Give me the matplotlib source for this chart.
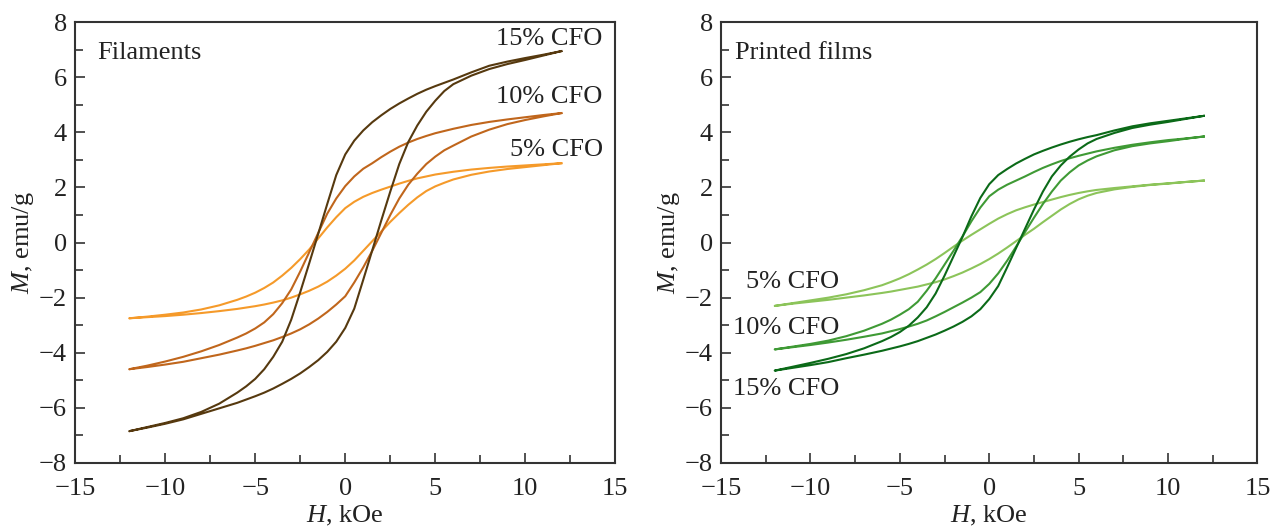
import matplotlib.pyplot as plt
from matplotlib.ticker import MultipleLocator

plt.rcParams['font.family'] = ['Liberation Serif', 'DejaVu Serif']
plt.rcParams['mathtext.fontset'] = 'custom'
plt.rcParams['mathtext.rm'] = 'Liberation Serif'
plt.rcParams['mathtext.it'] = 'Liberation Serif:italic'

# field (kOe) for the descending branch; the ascending branch runs the other way
h_down = [12, 11, 10, 9, 8, 7, 6, 5.5, 5, 4.5, 4, 3.5, 3, 2.5, 2, 1.5, 1, 0.5, 0,
          -0.5, -1, -1.5, -2, -2.5, -3, -3.5, -4, -4.5, -5, -5.5, -6, -7, -8, -9, -10, -11, -12]
h_up = [-h for h in h_down]

# Filaments, M (emu/g)
fil_15_down = [6.95, 6.82, 6.7, 6.57, 6.42, 6.18, 5.92, 5.8, 5.68, 5.55, 5.4, 5.23, 5.05, 4.85, 4.62, 4.37, 4.07, 3.7, 3.2,
               2.45, 1.4, 0.32, -0.75, -1.8, -2.8, -3.6, -4.15, -4.6, -4.95, -5.22, -5.45, -5.85, -6.15, -6.38, -6.55, -6.7, -6.85]
fil_15_up = [-6.85, -6.72, -6.58, -6.42, -6.22, -6.02, -5.82, -5.7, -5.58, -5.45, -5.3, -5.13, -4.95, -4.75, -4.52, -4.27, -3.97, -3.6, -3.1,
             -2.4, -1.35, -0.28, 0.8, 1.85, 2.85, 3.65, 4.25, 4.75, 5.15, 5.5, 5.75, 6.06, 6.3, 6.48, 6.63, 6.79, 6.95]
fil_10_down = [4.7, 4.63, 4.55, 4.47, 4.38, 4.27, 4.13, 4.05, 3.97, 3.87, 3.76, 3.63, 3.48, 3.3, 3.1, 2.88, 2.68, 2.4, 2.05,
               1.6, 1.05, 0.35, -0.35, -1.05, -1.7, -2.2, -2.6, -2.9, -3.12, -3.3, -3.45, -3.72, -3.95, -4.15, -4.32, -4.47, -4.6]
fil_10_up = [-4.6, -4.52, -4.43, -4.33, -4.2, -4.07, -3.92, -3.84, -3.75, -3.65, -3.55, -3.43, -3.3, -3.15, -2.97, -2.76, -2.52, -2.25, -1.95,
             -1.45, -0.9, -0.3, 0.35, 1.0, 1.6, 2.1, 2.5, 2.85, 3.12, 3.35, 3.52, 3.85, 4.1, 4.3, 4.45, 4.58, 4.7]
fil_5_down = [2.88, 2.84, 2.8, 2.76, 2.71, 2.65, 2.57, 2.52, 2.47, 2.4, 2.33, 2.24, 2.14, 2.03, 1.92, 1.8, 1.66, 1.48, 1.25,
              0.92, 0.55, 0.15, -0.25, -0.6, -0.92, -1.2, -1.45, -1.65, -1.82, -1.96, -2.08, -2.28, -2.43, -2.54, -2.62, -2.69, -2.75]
fil_5_up = [-2.75, -2.71, -2.67, -2.62, -2.56, -2.49, -2.41, -2.36, -2.31, -2.25, -2.18, -2.1, -2.0, -1.88, -1.75, -1.6, -1.42, -1.2, -0.95,
            -0.65, -0.3, 0.05, 0.4, 0.75, 1.07, 1.37, 1.64, 1.87, 2.04, 2.17, 2.29, 2.46, 2.58, 2.67, 2.74, 2.81, 2.88]

# Printed films
film_15_down = [4.6, 4.51, 4.42, 4.33, 4.22, 4.07, 3.9, 3.83, 3.75, 3.66, 3.56, 3.45, 3.33, 3.2, 3.04, 2.87, 2.67, 2.45, 2.12,
                1.62, 0.95, 0.2, -0.5, -1.2, -1.85, -2.35, -2.72, -3.02, -3.25, -3.43, -3.58, -3.84, -4.05, -4.22, -4.37, -4.51, -4.65]
film_15_up = [-4.65, -4.55, -4.45, -4.34, -4.2, -4.07, -3.93, -3.85, -3.77, -3.68, -3.58, -3.46, -3.34, -3.2, -3.05, -2.88, -2.68, -2.42, -2.05,
              -1.58, -0.9, -0.2, 0.5, 1.2, 1.85, 2.4, 2.8, 3.12, 3.38, 3.6, 3.76, 3.98, 4.16, 4.28, 4.38, 4.49, 4.6]
film_10_down = [3.85, 3.78, 3.72, 3.64, 3.55, 3.44, 3.31, 3.23, 3.15, 3.06, 2.96, 2.84, 2.71, 2.56, 2.4, 2.25, 2.1, 1.92, 1.68,
                1.27, 0.77, 0.22, -0.3, -0.8, -1.3, -1.75, -2.15, -2.42, -2.62, -2.8, -2.95, -3.2, -3.4, -3.56, -3.68, -3.78, -3.88]
film_10_up = [-3.88, -3.8, -3.72, -3.63, -3.53, -3.42, -3.3, -3.22, -3.14, -3.05, -2.95, -2.83, -2.68, -2.52, -2.35, -2.18, -2.0, -1.8, -1.5,
              -1.12, -0.66, -0.15, 0.38, 0.9, 1.4, 1.85, 2.25, 2.55, 2.8, 2.98, 3.13, 3.35, 3.5, 3.6, 3.68, 3.77, 3.85]
film_5_down = [2.25, 2.2, 2.15, 2.1, 2.04, 1.98, 1.91, 1.86, 1.8, 1.73, 1.65, 1.56, 1.47, 1.38, 1.28, 1.17, 1.03, 0.87, 0.68,
               0.48, 0.28, 0.07, -0.15, -0.38, -0.6, -0.8, -0.98, -1.15, -1.3, -1.43, -1.55, -1.73, -1.88, -2.0, -2.1, -2.2, -2.3]
film_5_up = [-2.3, -2.22, -2.15, -2.08, -2.0, -1.92, -1.83, -1.78, -1.72, -1.66, -1.6, -1.52, -1.44, -1.34, -1.22, -1.09, -0.94, -0.78, -0.6,
             -0.4, -0.18, 0.05, 0.28, 0.5, 0.74, 0.97, 1.2, 1.4, 1.57, 1.7, 1.8, 1.93, 2.02, 2.09, 2.14, 2.2, 2.25]

fil_loops = [(fil_5_down, fil_5_up, '#f59a2a'),
             (fil_10_down, fil_10_up, '#c0661c'),
             (fil_15_down, fil_15_up, '#56390f')]
film_loops = [(film_5_down, film_5_up, '#8cc45a'),
              (film_10_down, film_10_up, '#3f9a35'),
              (film_15_down, film_15_up, '#0b6a18')]

fig = plt.figure(figsize=(12.74, 5.29), dpi=100)
ax1 = fig.add_axes([0.059, 0.125, 0.424, 0.833])
ax2 = fig.add_axes([0.566, 0.125, 0.421, 0.833])

fs = 19
for ax, loops in [(ax1, fil_loops), (ax2, film_loops)]:
    for down, up, c in loops:
        ax.plot(h_down + h_up, down + up, color=c, lw=1.5, solid_joinstyle='round')
    ax.set_xlim(-15, 15)
    ax.set_ylim(-8, 8)
    ax.xaxis.set_major_locator(MultipleLocator(5))
    ax.xaxis.set_minor_locator(MultipleLocator(2.5))
    ax.yaxis.set_major_locator(MultipleLocator(2))
    ax.yaxis.set_minor_locator(MultipleLocator(1))
    ax.tick_params(which='both', direction='in', top=False, right=False,
                   labelsize=fs, width=1.2, colors='#333333', labelcolor='#222222')
    ax.tick_params(which='major', length=7)
    ax.tick_params(which='minor', length=6)
    ax.tick_params(axis='x', which='major', pad=11)
    ax.tick_params(axis='y', which='major', pad=6)
    for s in ax.spines.values():
        s.set_linewidth(1.5)
        s.set_color('#333333')
    ax.set_xlabel(r'$\mathit{H}$, kOe', fontsize=fs, labelpad=3, color='#222222')
    ax.set_ylabel(r'$\mathit{M}$, emu/g', fontsize=fs, labelpad=2, color='#222222')

ax1.text(-13.8, 6.9, 'Filaments', fontsize=fs, va='center', ha='left', color='#222222')
ax1.text(14.3, 7.4, '15% CFO', fontsize=fs, va='center', ha='right', color='#222222')
ax1.text(14.3, 5.3, '10% CFO', fontsize=fs, va='center', ha='right', color='#222222')
ax1.text(14.3, 3.35, '5% CFO', fontsize=fs, va='center', ha='right', color='#222222')

ax2.text(-14.2, 6.9, 'Printed films', fontsize=fs, va='center', ha='left', color='#222222')
ax2.text(-8.4, -1.45, '5% CFO', fontsize=fs, va='center', ha='right', color='#222222')
ax2.text(-8.4, -3.1, '10% CFO', fontsize=fs, va='center', ha='right', color='#222222')
ax2.text(-8.4, -5.3, '15% CFO', fontsize=fs, va='center', ha='right', color='#222222')

fig.savefig('out.png', dpi=100)
